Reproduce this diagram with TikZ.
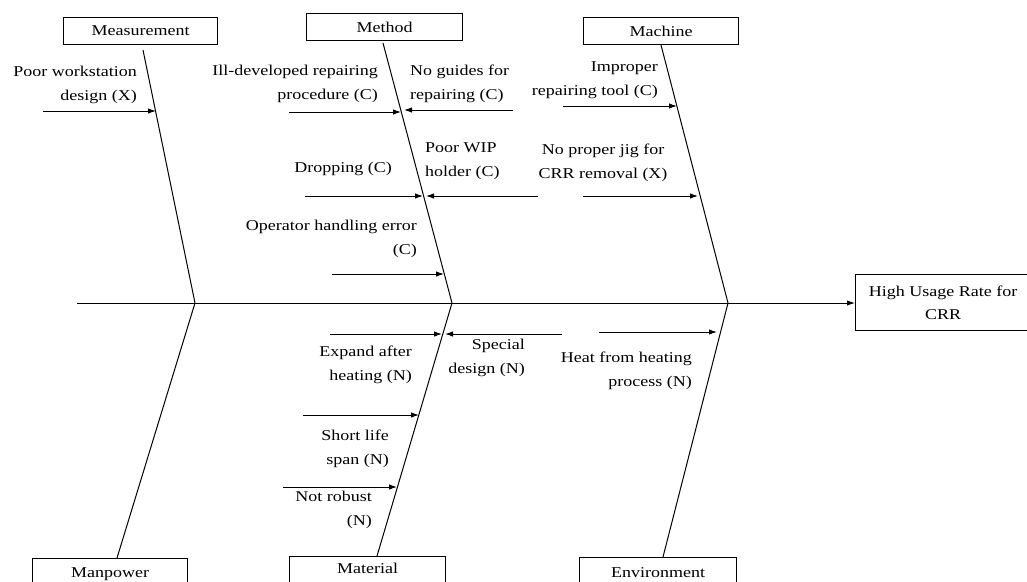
\documentclass[tikz,border=0pt]{standalone}
\usepackage{fontspec}
\setmainfont{Liberation Serif}[FakeStretch=1.2]
\usetikzlibrary{arrows.meta}
\begin{document}
\begin{tikzpicture}[x=1pt,y=-1pt,
  lbl/.style={inner sep=0pt,font=\fontsize{15}{23.5}\selectfont},
  catbox/.style={draw,line width=1.3pt,inner sep=0pt,minimum height=27pt,font=\fontsize{15}{18}\selectfont},
  botbox/.style={draw,line width=1.3pt,inner sep=0pt,text depth=22pt,font=\fontsize{15}{18}\selectfont,anchor=north west},
  bone/.style={line width=1pt},
  cause/.style={line width=1pt,-{Latex[length=8pt,width=5.5pt]}}]
\useasboundingbox (0,0) rectangle (1027,581);
\clip (0,0) rectangle (1027,581);
% effect box
\node[draw,line width=1.3pt,minimum width=175pt,minimum height=56pt,inner sep=0pt,anchor=north west,align=center,font=\fontsize{15}{23}\selectfont] (eff) at (855,274) {High Usage Rate for\\CRR};
% spine
\coordinate (s0) at (77,303);
\coordinate (j1) at (195,303);
\coordinate (j2) at (452,303);
\coordinate (j3) at (728,303);
\draw[cause] (s0) -- (eff.west|-s0);
% category boxes
\node[catbox,minimum width=154pt,anchor=north west] (meas) at (63,17) {Measurement};
\node[catbox,minimum width=156pt,anchor=north west] (meth) at (306,13) {Method};
\node[catbox,minimum width=155pt,anchor=north west] (mach) at (583,17) {Machine};
\node[botbox,minimum width=155pt,text height=19pt] (manp) at (32,558) {Manpower};
\node[botbox,minimum width=156pt,text height=17pt] (matl) at (289,556) {Material};
\node[botbox,minimum width=157pt,text height=20pt] (envi) at (579,557) {Environment};
% bones
\coordinate (b1) at (143,50);
\coordinate (b2) at (383,43);
\coordinate (b3) at (661,45);
\coordinate (b4) at (117,558);
\coordinate (b5) at (377,556);
\coordinate (b6) at (663,557);
\draw[bone] (b1) -- (j1);
\draw[bone] (b2) -- (j2);
\draw[bone] (b3) -- (j3);
\draw[bone] (b4) -- (j1);
\draw[bone] (b5) -- (j2);
\draw[bone] (b6) -- (j3);
% cause arrows
\coordinate (c1s) at (43,111);   \coordinate (c1t) at (156,111);
\coordinate (c2s) at (289,112);  \coordinate (c2t) at (401,112);
\coordinate (c3s) at (513,110);  \coordinate (c3t) at (404,110);
\coordinate (c4s) at (305,196);  \coordinate (c4t) at (423,196);
\coordinate (c5s) at (538,196);  \coordinate (c5t) at (426,196);
\coordinate (c6s) at (332,274);  \coordinate (c6t) at (444,274);
\coordinate (c7s) at (563,106);  \coordinate (c7t) at (677,106);
\coordinate (c8s) at (583,196);  \coordinate (c8t) at (698,196);
\coordinate (c9s) at (330,334);  \coordinate (c9t) at (442,334);
\coordinate (c10s) at (562,334); \coordinate (c10t) at (445,334);
\coordinate (c11s) at (599,332); \coordinate (c11t) at (717,332);
\coordinate (c12s) at (303,415); \coordinate (c12t) at (419,415);
\coordinate (c13s) at (283,487); \coordinate (c13t) at (397,487);
\foreach \i in {1,...,13} {\draw[cause] (c\i s) -- (c\i t);}
% labels
\node[lbl,align=right,anchor=east] (t1) at (137,85) {Poor workstation\\design (X)};
\node[lbl,align=right,anchor=east] (t2) at (378,84) {Ill-developed repairing\\procedure (C)};
\node[lbl,align=left,anchor=west] (t3) at (410,84) {No guides for\\repairing (C)};
\node[lbl,anchor=east] (t4) at (392,169) {Dropping (C)};
\node[lbl,align=left,anchor=west] (t5) at (425,161) {Poor WIP\\holder (C)};
\node[lbl,align=right,anchor=east] (t6) at (417,239) {Operator handling error\\(C)};
\node[lbl,align=right,anchor=east] (t7) at (658,80) {Improper\\repairing tool (C)};
\node[lbl,align=center] (t8) at (603,163) {No proper jig for\\CRR removal (X)};
\node[lbl,align=right,anchor=east] (t9) at (412,365) {Expand after\\heating (N)};
\node[lbl,align=right,anchor=east] (t10) at (525,358) {Special\\design (N)};
\node[lbl,align=right,anchor=east] (t11) at (692,371) {Heat from heating\\process (N)};
\node[lbl,align=right,anchor=east] (t12) at (389,449) {Short life\\span (N)};
\node[lbl,align=right,anchor=east] (t13) at (372,510) {Not robust\\(N)};
\end{tikzpicture}
\end{document}
